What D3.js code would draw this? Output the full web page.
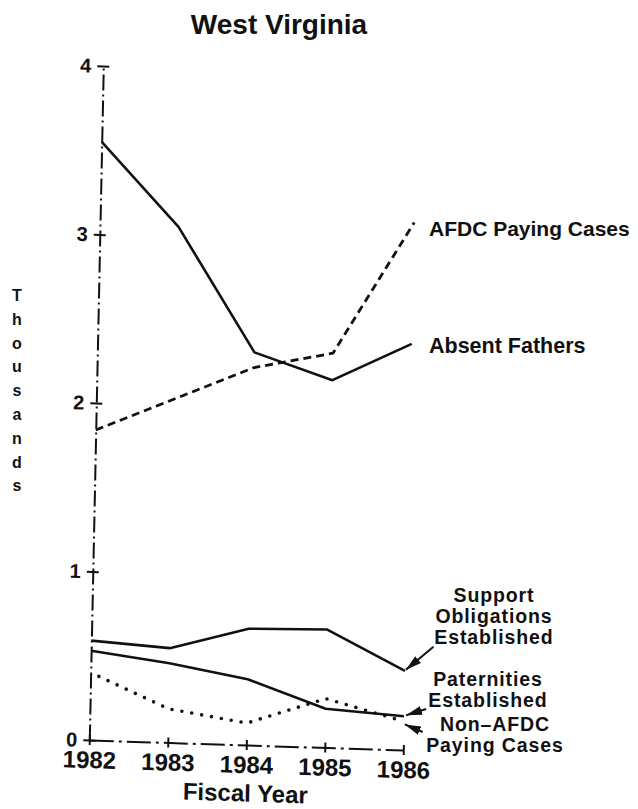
<!DOCTYPE html>
<html>
<head>
<meta charset="utf-8">
<script src="https://cdn.jsdelivr.net/npm/d3@7"></script>
<style>
  html, body { margin: 0; padding: 0; background: #fff; }
  svg { display: block; }
  text { font-family: "Liberation Sans", Arial, sans-serif; font-weight: bold; fill: #111; }
</style>
</head>
<body>
<script>
// ---- data ----
const years = [1982, 1983, 1984, 1985, 1986];
const absentFathers      = [3.55, 3.06, 2.33, 2.18, 2.41];
const afdcPayingCases    = [1.84, 2.04, 2.24, 2.34, 3.13];
const supportObligations = [0.59, 0.56, 0.69, 0.70, 0.47];
const paternities        = [0.53, 0.47, 0.39, 0.23, 0.20];
const nonAfdcPaying      = [0.40, 0.20, 0.13, 0.29, 0.17];
const yTicks = [0, 1, 2, 3, 4];
const yearTicks = [1982, 1983, 1984, 1985, 1986];
const titleText = "West Virginia";
const xTitle = "Fiscal Year";
const yTitle = "Thousands";

const W = 638, H = 809;
const svg = d3.select("body").append("svg").attr("width", W).attr("height", H);

// scales (plot frame; the scanned plot is slightly skewed, applied via transform)
const x = d3.scaleLinear().domain([1982, 1986]).range([0, 314]);
const y = d3.scaleLinear().domain([0, 4]).range([0, -674]);

const g = svg.append("g")
  .attr("transform", "matrix(1,0.03185,-0.02077,1,89.3,740)");

// marker
svg.append("defs").append("marker")
  .attr("id", "ah").attr("markerUnits", "userSpaceOnUse")
  .attr("markerWidth", 17).attr("markerHeight", 10)
  .attr("refX", 16).attr("refY", 4.5).attr("orient", "auto")
  .append("path").attr("d", "M0,0 L16,4.5 L0,9 Z").attr("fill", "#111");

// y axis
const yAxis = g.append("g").call(
  d3.axisLeft(y).tickValues(yTicks).tickFormat(d3.format("d")).tickSize(6).tickSizeOuter(0).tickPadding(6)
);
yAxis.attr("font-size", null).attr("font-family", null);
yAxis.select(".domain").attr("stroke", "#111").attr("stroke-width", 2).attr("stroke-dasharray", "16,4,2,4");
yAxis.selectAll(".tick line").attr("x1", 6).attr("stroke", "#111").attr("stroke-width", 2);
yAxis.selectAll(".tick text").style("font-size", "20px").attr("fill", "#111");

// x axis
const xAxis = g.append("g").call(
  d3.axisBottom(x).tickValues(yearTicks).tickFormat(d3.format("d")).tickSize(5).tickSizeOuter(0)
);
xAxis.attr("font-size", null).attr("font-family", null);
xAxis.select(".domain").attr("stroke", "#111").attr("stroke-width", 2).attr("stroke-dasharray", "24,5,3,5");
xAxis.selectAll(".tick line").attr("y1", -5).attr("stroke", "#111").attr("stroke-width", 2);
xAxis.selectAll(".tick text").style("font-size", "24px").attr("fill", "#111").attr("y", 11);

// lines
const line = d3.line().x((d, i) => x(years[i])).y(d => y(d));
function drawSeries(vals, dash, width, cap, offset) {
  g.append("path").datum(vals)
    .attr("d", line).attr("fill", "none").attr("stroke", "#111")
    .attr("stroke-width", width).attr("stroke-linejoin", "round")
    .attr("stroke-linecap", cap || "butt")
    .attr("stroke-dasharray", dash || null)
    .attr("stroke-dashoffset", offset || 0);
}
drawSeries(absentFathers, null, 2.6);
drawSeries(afdcPayingCases, "8,5", 2.8);
drawSeries(supportObligations, null, 2.6);
drawSeries(paternities, null, 2.6);
drawSeries(nonAfdcPaying, "0,10", 3.6, "round", 1);

// arrows (anchored at the 1986 points)
function arrow(val, tip, tail) {
  const px = x(1986), py = y(val);
  g.append("line")
    .attr("x1", px + tail[0]).attr("y1", py + tail[1])
    .attr("x2", px + tip[0]).attr("y2", py + tip[1])
    .attr("stroke", "#111").attr("stroke-width", 2)
    .attr("marker-end", "url(#ah)");
}
arrow(supportObligations[4], [1, -1], [28, -25]);
arrow(paternities[4], [2, -1], [22, -8]);
arrow(nonAfdcPaying[4], [1, 3], [19, 10]);

// axis titles
g.append("text").attr("x", x(1984)).attr("y", 56.5).attr("text-anchor", "middle")
  .attr("font-size", 24).text(xTitle);

svg.append("text").attr("x", 279).attr("y", 34).attr("text-anchor", "middle")
  .attr("font-size", 28).text(titleText);

const yt = svg.append("text").attr("font-size", 16).attr("text-anchor", "middle");
yTitle.split("").forEach((ch, i) => {
  yt.append("tspan").attr("x", 17).attr("y", 301 + i * 23.8).text(ch);
});

// series labels
function label(lines, xPos, y0, anchor, size, ls) {
  const t = svg.append("text").attr("font-size", size).attr("text-anchor", anchor)
    .attr("letter-spacing", ls || 0);
  lines.forEach((l, i) => t.append("tspan").attr("x", xPos).attr("y", y0 + i * 21).text(l));
}
label(["AFDC Paying Cases"], 429, 236, "start", 21);
label(["Absent Fathers"], 429, 353, "start", 21.5);
label(["Support", "Obligations", "Established"], 494, 602, "middle", 19.5, 0.9);
label(["Paternities", "Established"], 488, 686, "middle", 19.5, 0.9);
label(["Non–AFDC", "Paying Cases"], 495, 731, "middle", 19.5, 0.9);
</script>
</body>
</html>
